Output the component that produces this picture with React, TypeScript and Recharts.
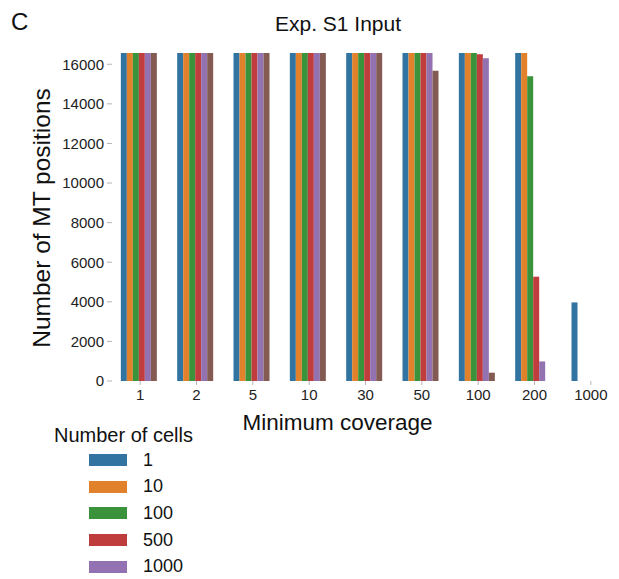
import { BarChart, Bar, XAxis, YAxis, Label, Legend } from 'recharts';

// Minimum coverage thresholds (x categories)
const coverage = ['1', '2', '5', '10', '30', '50', '100', '200', '1000'];

// Number of MT positions per cell count, one value per coverage threshold
const cells1 = [16569, 16569, 16569, 16569, 16569, 16569, 16569, 16569, 3970];
const cells10 = [16569, 16569, 16569, 16569, 16569, 16569, 16569, 16569, 0];
const cells100 = [16569, 16569, 16569, 16569, 16569, 16569, 16569, 15400, 0];
const cells500 = [16569, 16569, 16569, 16569, 16569, 16569, 16510, 5270, 0];
const cells1000 = [16569, 16569, 16569, 16569, 16569, 16569, 16310, 990, 0];
const cells5000 = [16569, 16569, 16569, 16569, 16569, 15670, 420, 0, 0];

const seriesNames = ['1', '10', '100', '500', '1000', '5000'];
const seriesColors = ['#3274a1', '#e1812c', '#3a923a', '#c03d3e', '#9372b2', '#845b53'];
const seriesValues = [cells1, cells10, cells100, cells500, cells1000, cells5000];

// the reference legend is cut at the bottom edge after five entries
const legendVisible = 5;

const yTicks = [0, 2000, 4000, 6000, 8000, 10000, 12000, 14000, 16000];

const data = coverage.map((c, i) => {
  const row: Record<string, string | number> = { coverage: c };
  seriesNames.forEach((name, j) => {
    row['n' + name] = seriesValues[j][i];
  });
  return row;
});

const font = '"Liberation Sans", Arial, Helvetica, sans-serif';

const XTitle = (props: any) => {
  const { x, y, width, height } = props.viewBox;
  return (
    <text x={x + width / 2 - 28} y={y + height - 11} textAnchor="middle" fontSize={22.5} fill="#111" fontFamily={font}>
      Minimum coverage
    </text>
  );
};

const YTitle = (props: any) => {
  const { y, height } = props.viewBox;
  const cx = 50;
  const cy = y + height / 2 + 1;
  return (
    <text x={cx} y={cy} transform={`rotate(-90, ${cx}, ${cy})`} textAnchor="middle" fontSize={24.5} fill="#111" fontFamily={font}>
      Number of MT positions
    </text>
  );
};

const renderLegend = () => (
  <div style={{ fontFamily: font, color: '#111' }}>
    <div style={{ fontSize: 20, lineHeight: '20px', marginLeft: 54, marginBottom: 2 }}>Number of cells</div>
    {seriesNames.slice(0, legendVisible).map((name, j) => (
      <div key={name} style={{ display: 'flex', alignItems: 'center', height: 26.6 }}>
        <span style={{ marginLeft: 89, width: 38, height: 12, background: seriesColors[j], display: 'inline-block' }} />
        <span style={{ marginLeft: 16, fontSize: 18 }}>{name}</span>
      </div>
    ))}
  </div>
);

export default function App() {
  return (
    <div style={{ position: 'fixed', left: 0, top: 0, width: 619, height: 579, overflow: 'hidden', background: '#fff', fontFamily: font }}>
      <div style={{ position: 'absolute', left: 11, top: 10, fontSize: 24, lineHeight: '24px', color: '#111' }}>C</div>
      <div style={{ position: 'absolute', left: 238, width: 200, top: 13, fontSize: 21, lineHeight: '21px', textAlign: 'center', color: '#111' }}>
        Exp. S1 Input
      </div>
      <BarChart
        width={619}
        height={579}
        data={data}
        margin={{ top: 53, right: 0, bottom: 138, left: 0 }}
        barCategoryGap="15.7%"
        barGap={0}
      >
        <XAxis
          dataKey="coverage"
          height={60}
          axisLine={false}
          tickLine={{ stroke: '#b5b5b5' }}
          tickSize={4}
          tickMargin={4}
          interval={0}
          tick={{ fontSize: 15, fill: '#222', fontFamily: font }}
        >
          <Label content={XTitle} />
        </XAxis>
        <YAxis
          width={112}
          domain={[0, 16569]}
          ticks={yTicks}
          axisLine={false}
          tickLine={{ stroke: '#b5b5b5' }}
          tickSize={5}
          tickMargin={3}
          tick={{ fontSize: 15, fill: '#222', fontFamily: font }}
        >
          <Label content={YTitle} />
        </YAxis>
        <Legend
          layout="vertical"
          align="center"
          verticalAlign="middle"
          content={renderLegend}
          wrapperStyle={{ left: 0, top: 425, width: 260 }}
        />
        {seriesNames.map((name, j) => (
          <Bar key={name} dataKey={'n' + name} name={name} fill={seriesColors[j]} isAnimationActive={false} />
        ))}
      </BarChart>
    </div>
  );
}
